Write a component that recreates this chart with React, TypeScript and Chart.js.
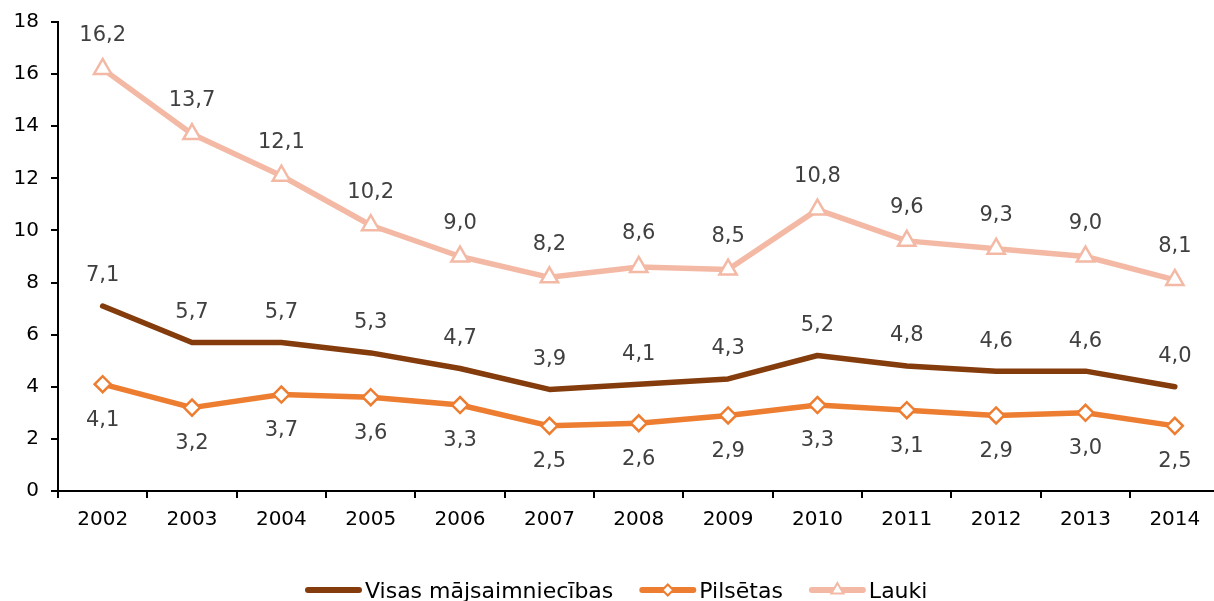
import React, { useEffect, useRef } from "react";
import { Chart, registerables } from "chart.js";

Chart.register(...registerables);

const years = ["2002","2003","2004","2005","2006","2007","2008","2009","2010","2011","2012","2013","2014"];
const visas = [7.1, 5.7, 5.7, 5.3, 4.7, 3.9, 4.1, 4.3, 5.2, 4.8, 4.6, 4.6, 4.0];
const pilsetas = [4.1, 3.2, 3.7, 3.6, 3.3, 2.5, 2.6, 2.9, 3.3, 3.1, 2.9, 3.0, 2.5];
const lauki = [16.2, 13.7, 12.1, 10.2, 9.0, 8.2, 8.6, 8.5, 10.8, 9.6, 9.3, 9.0, 8.1];
const seriesNames = ["Visas mājsaimniecības", "Pilsētas", "Lauki"];
const yTicks = [0, 2, 4, 6, 8, 10, 12, 14, 16, 18];

const FONT = "'DejaVu Sans', Verdana, sans-serif";
const labelOffsets = [-30, 36, -33];

const dataLabelPlugin = {
  id: "dataLabels",
  afterDatasetsDraw(chart: any) {
    const ctx = chart.ctx;
    ctx.save();
    ctx.font = `21px ${FONT}`;
    ctx.fillStyle = "#404040";
    ctx.textAlign = "center";
    ctx.textBaseline = "middle";
    chart.data.datasets.forEach((ds: any, i: number) => {
      const meta = chart.getDatasetMeta(i);
      meta.data.forEach((pt: any, j: number) => {
        const v = ds.data[j] as number;
        const txt = v.toFixed(1).replace(".", ",");
        ctx.fillText(txt, pt.x, pt.y + labelOffsets[i]);
      });
    });
    ctx.restore();
  },
};

const legendPlugin = {
  id: "customLegend",
  afterDraw(chart: any) {
    const ctx = chart.ctx;
    ctx.save();
    ctx.font = `22px ${FONT}`;
    const y = 590;
    let x = 305;
    chart.data.datasets.forEach((ds: any) => {
      const lineLen = 57;
      ctx.strokeStyle = ds.borderColor;
      ctx.lineWidth = 6;
      ctx.lineCap = "round";
      ctx.beginPath();
      ctx.moveTo(x + 3, y);
      ctx.lineTo(x + lineLen - 3, y);
      ctx.stroke();
      const cx = x + lineLen / 2;
      if (ds.pointStyle === "rectRot") {
        const r = 5.5;
        ctx.fillStyle = "#fff";
        ctx.lineWidth = 2;
        ctx.beginPath();
        ctx.moveTo(cx - r, y);
        ctx.lineTo(cx, y - r);
        ctx.lineTo(cx + r, y);
        ctx.lineTo(cx, y + r);
        ctx.closePath();
        ctx.fill();
        ctx.stroke();
      } else if (ds.pointStyle === "triangle") {
        const r = 7;
        ctx.fillStyle = "#fff";
        ctx.lineWidth = 2;
        ctx.beginPath();
        ctx.moveTo(cx, y - r);
        ctx.lineTo(cx + r * 0.866, y + r * 0.5);
        ctx.lineTo(cx - r * 0.866, y + r * 0.5);
        ctx.closePath();
        ctx.fill();
        ctx.stroke();
      }
      ctx.fillStyle = "#000";
      ctx.textAlign = "left";
      ctx.textBaseline = "alphabetic";
      const tx = x + lineLen + 3;
      ctx.fillText(ds.label, tx, 598);
      x = tx + ctx.measureText(ds.label).width + 26;
    });
    ctx.restore();
  },
};

export default function App() {
  const ref = useRef<HTMLCanvasElement | null>(null);
  useEffect(() => {
    if (!ref.current) return;
    const chart = new Chart(ref.current, {
      type: "line",
      data: {
        labels: years,
        datasets: [
          {
            label: seriesNames[0],
            data: visas,
            borderColor: "#843C0C",
            backgroundColor: "#843C0C",
            borderWidth: 5.5,
            pointRadius: 0,
            pointStyle: false as any,
            borderCapStyle: "round",
            borderJoinStyle: "round",
          },
          {
            label: seriesNames[1],
            data: pilsetas,
            borderColor: "#ED7D31",
            backgroundColor: "#ED7D31",
            borderWidth: 5.5,
            pointStyle: "rectRot",
            pointRadius: 8,
            pointBorderWidth: 2.5,
            pointBackgroundColor: "#ffffff",
            pointBorderColor: "#ED7D31",
            borderJoinStyle: "round",
          },
          {
            label: seriesNames[2],
            data: lauki,
            borderColor: "#F4B9A5",
            backgroundColor: "#F4B9A5",
            borderWidth: 5.5,
            pointStyle: "triangle",
            pointRadius: 10,
            pointBorderWidth: 2.5,
            pointBackgroundColor: "#ffffff",
            pointBorderColor: "#F4B9A5",
            borderJoinStyle: "round",
          },
        ],
      },
      options: {
        responsive: false,
        animation: false,
        layout: { padding: { top: 22, right: 2, left: 0, bottom: 0 } },
        plugins: {
          legend: { display: false },
          tooltip: { enabled: false },
        },
        scales: {
          x: {
            type: "category",
            offset: true,
            grid: {
              offset: true,
              drawOnChartArea: false,
              drawTicks: true,
              tickLength: 7,
              color: "#000",
              lineWidth: 2,
            },
            border: { color: "#000", width: 2 },
            ticks: {
              color: "#000",
              font: { family: FONT, size: 20, lineHeight: 2.2 },
              padding: 0,
              maxRotation: 0,
              autoSkip: false,
            },
            afterFit: (s: any) => {
              s.height = 110;
            },
          },
          y: {
            min: 0,
            max: 18,
            afterBuildTicks: (s: any) => {
              s.ticks = yTicks.map((v) => ({ value: v }));
            },
            grid: {
              drawOnChartArea: false,
              drawTicks: true,
              tickLength: 7,
              color: "#000",
              lineWidth: 2,
            },
            border: { color: "#000", width: 2 },
            ticks: {
              color: "#000",
              font: { family: FONT, size: 20, lineHeight: 1.0 },
              padding: 12,
            },
            afterFit: (s: any) => {
              s.width = 58;
            },
          },
        },
      },
      plugins: [dataLabelPlugin, legendPlugin],
    });
    return () => chart.destroy();
  }, []);
  return (
    <div
      style={{
        position: "absolute",
        left: 0,
        top: 0,
        width: 1214,
        height: 601,
        overflow: "hidden",
        background: "#fff",
      }}
    >
      <canvas ref={ref} width={1232} height={601} style={{ display: "block" }} />
    </div>
  );
}
